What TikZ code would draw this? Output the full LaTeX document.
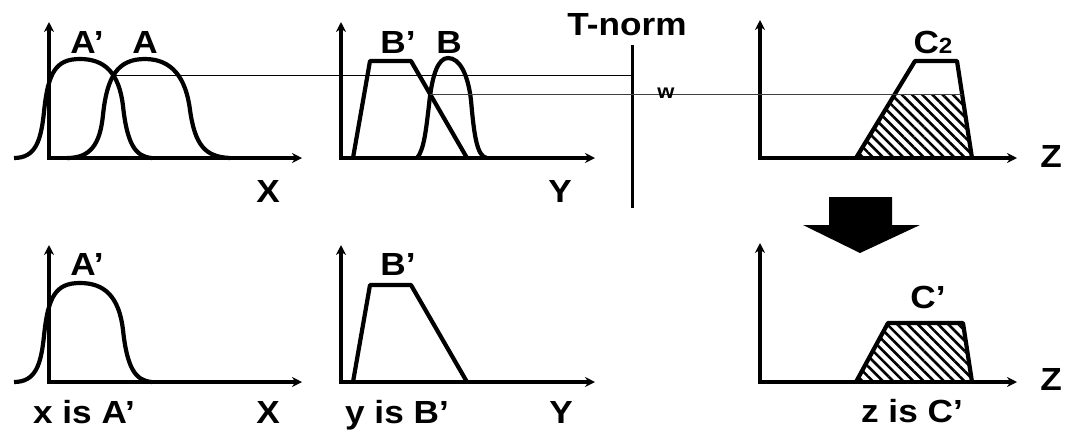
\documentclass[tikz,border=0pt]{standalone}
\usepackage{fontspec}
\setmainfont{Liberation Sans}
\usetikzlibrary{arrows.meta,intersections,patterns.meta}

% membership functions used twice
\newcommand{\Apcurve}{(14,158) .. controls (36,158) and (41,140) .. (44,112) .. controls (48,72) and (56,59) .. (80,59) .. controls (104,59) and (119,72) .. (123,106) .. controls (127,143) and (135,157) .. (152,158)}
\newcommand{\Bpshape}{(353,158) -- (370,61) -- (411,61) -- (467,158)}

\begin{document}
\begin{tikzpicture}[
  x=0.5pt, y=-0.5pt,
  >={Stealth[length=5pt,width=5pt]},
  axis/.style={line width=1.8pt, <->},
  mf/.style={line width=2.1pt, line join=round},
  cutline/.style={line width=0.7pt},
  lbl/.style={font=\fontsize{16}{18}\selectfont\bfseries, inner sep=0pt, anchor=base, xscale=1.1},
  hatch/.style={pattern={Lines[angle=-45,distance=3.6pt,line width=1.3pt]}}
]
\useasboundingbox (0,0) rectangle (1067,435);

\coordinate (zo)    at (760,158);
\coordinate (zend)  at (1017,158);
\coordinate (tntop) at (632,45);
\coordinate (tnbot) at (632,208);

% axes
\foreach \ox/\oy/\top/\xe in {49/158/22/302, 341/158/22/595, 760/158/20/1017,
                              49/382/245/302, 341/382/245/595, 760/382/243/1017}
  \draw[axis] (\ox,\top) -- (\ox,\oy) -- (\xe,\oy);

% top row: premises
\draw[mf, name path=Ap] \Apcurve;
\draw[mf, name path=A] (67,158) .. controls (90,158) and (100,145) .. (103,115)
  .. controls (107,76) and (118,59) .. (145,59)
  .. controls (172,59) and (186,78) .. (190,110)
  .. controls (195,145) and (205,157) .. (230,158);
\draw[mf, name path=Bp] \Bpshape;
\draw[mf, name path=B] (417,158) .. controls (424,150) and (426,130) .. (429,105)
  .. controls (432,75) and (438,58) .. (448,58)
  .. controls (460,58) and (468,75) .. (471,100)
  .. controls (474,135) and (477,157) .. (487,158);

\path[name intersections={of=Ap and A, by=cutA}];
\path[name intersections={of=Bp and B, by=cutB}];

% consequent C2, clipped at w
\path[name path=c2] (856,158) -- (915,61) -- (957,61) -- (972,158);
\path[name path=wl] (cutB) -- (cutB -| zend);
\path[name intersections={of=wl and c2, sort by=wl, by={wlft,wrgt}}];
\begin{scope}
  \clip (cutB -| zo) rectangle (zend);
  \fill[hatch] (856,158) -- (915,61) -- (957,61) -- (972,158) -- cycle;
\end{scope}
\draw[mf] (856,158) -- (915,61) -- (957,61) -- (972,158);

% T-norm
\draw[line width=1.5pt] (tntop) -- (tnbot);
\draw[cutline] (cutA) -- (cutA -| tntop);
\draw[cutline, black!75] (cutB) -- (wrgt);

% bottom row: facts and conclusion
\draw[mf, shift={(0,224)}] \Apcurve;
\draw[mf, shift={(0,224)}] \Bpshape;
\fill[hatch] (856,382) -- (888,323) -- (963,323) -- (972,382) -- cycle;
\draw[mf] (856,382) -- (888,323) -- (963,323) -- (972,382);

% big arrow
\fill (829,197) -- (892,197) -- (892,225) -- (920,225) -- (860,253)
  -- (803,225) -- (829,225) -- cycle;

% labels
\node[lbl] (lAp)  at (87,53)   {A’};
\node[lbl] (lA)   at (145,53)  {A};
\node[lbl] (lX)   at (268,202) {X};
\node[lbl] (lBp)  at (398,53)  {B’};
\node[lbl] (lB)   at (449,53)  {B};
\node[lbl] (lY)   at (560,202) {Y};
\node[lbl] (ltn)  at (627,35)  {T-norm};
\node[lbl, font=\fontsize{10}{11}\selectfont\bfseries] (lw) at (666,98) {w};
\node[lbl] (lC2)  at (933,53)  {C{\fontsize{11}{12}\selectfont 2}};
\node[lbl] (lZ)   at (1051,167) {Z};

\node[lbl] (lAp2) at (87,275)  {A’};
\node[lbl] (lxis) at (84,423)  {x is A’};
\node[lbl] (lX2)  at (268,423) {X};
\node[lbl] (lBp2) at (398,275) {B’};
\node[lbl] (lyis) at (397,423) {y is B’};
\node[lbl] (lY2)  at (561,423) {Y};
\node[lbl] (lCp)  at (928,308) {C’};
\node[lbl] (lZ2)  at (1051,390) {Z};
\node[lbl] (lzis) at (912,422) {z is C’};

\end{tikzpicture}
\end{document}
